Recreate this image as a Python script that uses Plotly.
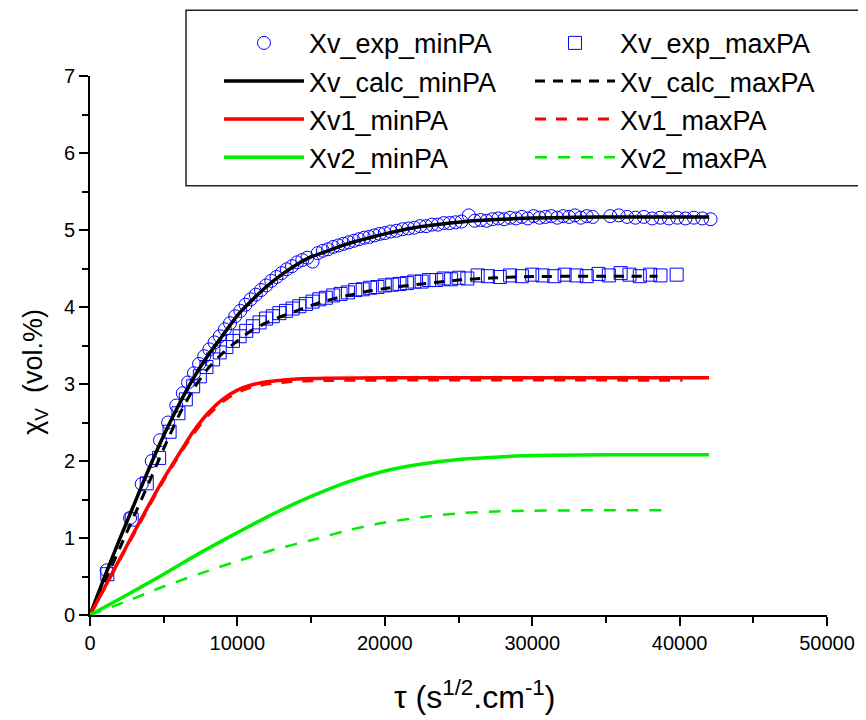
import plotly.graph_objects as go

# ---------------- data ----------------
exp_min_x = [1130, 2720, 3510, 4190, 4750, 5300, 5850, 6300, 6650, 7050, 7400, 7750, 8100, 8450, 8800,
             9150, 9500, 9850, 10200, 10550, 10900, 11250, 11600, 11950, 12300, 12650, 13000, 13350,
             13700, 14050, 14400, 14750, 15100, 15450, 15800, 16150, 16500, 16850, 17200, 17550, 17900,
             18250, 18600, 18950, 19300, 19650, 20000, 20400, 20800, 21200, 21600, 22000, 22400, 22800,
             23200, 23600, 24000, 24400, 24800, 25200, 25700, 26100, 26500, 26900, 27300, 27700, 28100,
             28500, 28900, 29300, 29700, 30100, 30500, 30900, 31300, 31700, 32100, 32500, 32900, 33300,
             33700, 34100, 35300, 35870, 36440, 37000, 37570, 38140, 38700, 39270, 39840, 40400, 40970,
             41540, 42100]
exp_min_y = [0.58, 1.26, 1.70, 2.00, 2.27, 2.50, 2.72, 2.88, 3.02, 3.14, 3.26, 3.36, 3.45, 3.54, 3.62,
             3.71, 3.79, 3.88, 3.95, 4.03, 4.10, 4.16, 4.22, 4.28, 4.34, 4.39, 4.44, 4.49,
             4.53, 4.58, 4.61, 4.64, 4.59, 4.70, 4.73, 4.75, 4.78, 4.80, 4.82, 4.84, 4.86,
             4.88, 4.90, 4.91, 4.93, 4.95, 4.96, 4.98, 4.99, 5.01, 5.02, 5.03, 5.05, 5.05,
             5.07, 5.07, 5.09, 5.09, 5.10, 5.11, 5.19, 5.12, 5.13, 5.12, 5.14, 5.15, 5.14,
             5.16, 5.15, 5.17, 5.15, 5.18, 5.16, 5.17, 5.18, 5.16, 5.18, 5.17, 5.19, 5.16,
             5.18, 5.17, 5.18, 5.19, 5.17, 5.16, 5.17, 5.15, 5.16, 5.15, 5.16, 5.15, 5.16,
             5.15, 5.14]

exp_max_x = [1175, 2830, 3850, 4690, 5400, 6000, 6500, 7000, 7450, 7900, 8350, 8800, 9250, 9700, 10150,
             10600, 11050, 11500, 11950, 12400, 12850, 13300, 13750, 14200, 14650, 15100, 15550, 16000,
             16500, 17000, 17500, 18000, 18500, 19000, 19500, 20000, 20500, 21000, 21500, 22000, 22500,
             23000, 23500, 24000, 24500, 25000, 25600, 26300, 27000, 27800, 28500, 29300, 30000, 30700,
             31500, 32200, 33000, 33700, 34500, 35200, 36000, 36600, 37300, 38000, 38700, 39800]
exp_max_y = [0.53, 1.24, 1.71, 2.04, 2.38, 2.62, 2.80, 2.97, 3.10, 3.22, 3.32, 3.41, 3.48, 3.56, 3.62,
             3.69, 3.75, 3.80, 3.85, 3.88, 3.92, 3.95, 3.98, 4.01, 4.04, 4.07, 4.10, 4.12,
             4.15, 4.17, 4.19, 4.22, 4.23, 4.25, 4.26, 4.28, 4.29, 4.30, 4.31, 4.33, 4.33,
             4.35, 4.35, 4.37, 4.36, 4.38, 4.37, 4.41, 4.40, 4.39, 4.41, 4.40, 4.42, 4.41,
             4.40, 4.42, 4.41, 4.40, 4.43, 4.41, 4.44, 4.42, 4.40, 4.42, 4.41, 4.42]

calc_min_x = [0, 1000, 2000, 3000, 4000, 5000, 6000, 7000, 8000, 9000, 10000, 11000, 12000, 13000, 14000,
              15000, 16000, 17000, 18000, 19000, 20000, 22000, 24000, 26000, 28000, 30000, 33000, 36000, 42000]
calc_min_y = [0, 0.50, 0.98, 1.44, 1.90, 2.33, 2.72, 3.07, 3.37, 3.63, 3.89, 4.09, 4.27, 4.42, 4.55,
              4.65, 4.72, 4.79, 4.85, 4.90, 4.95, 5.03, 5.08, 5.12, 5.14, 5.155, 5.165, 5.17, 5.17]

calc_max_x = [0, 1000, 2000, 3000, 4000, 5000, 6000, 7000, 8000, 9000, 10000, 11000, 12000, 13000, 14000,
              15000, 16000, 17000, 18000, 19000, 20000, 22500, 25000, 27500, 30000, 35000, 38500]
calc_max_y = [0, 0.43, 0.86, 1.29, 1.72, 2.16, 2.58, 2.93, 3.20, 3.40, 3.56, 3.70, 3.80, 3.88, 3.95,
              4.02, 4.08, 4.13, 4.17, 4.21, 4.24, 4.30, 4.35, 4.38, 4.395, 4.40, 4.40]

xv1_min_x = [0, 1000, 2000, 3000, 4000, 5000, 6000, 7000, 8000, 9000, 10000, 11000, 12000, 13000, 14000,
             16000, 20000, 42000]
xv1_min_y = [0, 0.36, 0.72, 1.08, 1.43, 1.77, 2.08, 2.38, 2.62, 2.80, 2.92, 2.99, 3.03, 3.05, 3.065,
             3.075, 3.08, 3.08]

xv1_max_x = [0, 1000, 2000, 3000, 4000, 5000, 6000, 7000, 8000, 9000, 10000, 11000, 12000, 13000, 14000,
             16000, 20000, 40200]
xv1_max_y = [0, 0.355, 0.71, 1.06, 1.41, 1.75, 2.06, 2.35, 2.59, 2.77, 2.89, 2.96, 3.00, 3.02, 3.035,
             3.045, 3.05, 3.05]

xv2_min_x = [0, 2500, 5000, 7500, 10000, 12500, 15000, 17500, 20000, 22500, 25000, 27500, 30000, 35000, 42000]
xv2_min_y = [0, 0.26, 0.53, 0.81, 1.07, 1.32, 1.54, 1.73, 1.87, 1.96, 2.02, 2.05, 2.07, 2.08, 2.08]

xv2_max_x = [0, 2500, 5000, 7500, 10000, 12500, 15000, 17500, 20000, 22500, 25000, 27500, 30000, 35000, 39000]
xv2_max_y = [0, 0.18, 0.37, 0.54, 0.70, 0.85, 0.97, 1.10, 1.20, 1.27, 1.32, 1.345, 1.355, 1.36, 1.36]

x_ticks = [0, 10000, 20000, 30000, 40000, 50000]
y_ticks = [0, 1, 2, 3, 4, 5, 6, 7]

x_title = "τ (s<sup>1/2</sup>.cm<sup>-1</sup>)"
y_title = "χ<sub>V</sub>  (vol.%)"

# ---------------- figure ----------------
FONT = "Liberation Sans, Arial, sans-serif"
BLUE = "#0000ff"
RED = "#ff0000"
GREEN = "#00ee00"

fig = go.Figure()
fig.add_trace(go.Scatter(x=exp_min_x, y=exp_min_y, mode="markers", name="Xv_exp_minPA",
                         marker=dict(symbol="circle-open", size=13, color=BLUE, line=dict(width=1, color=BLUE))))
fig.add_trace(go.Scatter(x=exp_max_x, y=exp_max_y, mode="markers", name="Xv_exp_maxPA",
                         marker=dict(symbol="square-open", size=13, color=BLUE, line=dict(width=1, color=BLUE))))
fig.add_trace(go.Scatter(x=calc_min_x, y=calc_min_y, mode="lines", name="Xv_calc_minPA",
                         line=dict(color="black", width=3.5, shape="spline", smoothing=0.6)))
fig.add_trace(go.Scatter(x=calc_max_x, y=calc_max_y, mode="lines", name="Xv_calc_maxPA",
                         line=dict(color="black", width=3, dash="10px,8px", shape="spline", smoothing=0.6)))
fig.add_trace(go.Scatter(x=xv1_min_x, y=xv1_min_y, mode="lines", name="Xv1_minPA",
                         line=dict(color=RED, width=3.5, shape="spline", smoothing=0.6)))
fig.add_trace(go.Scatter(x=xv1_max_x, y=xv1_max_y, mode="lines", name="Xv1_maxPA",
                         line=dict(color=RED, width=3, dash="11px,10px", shape="spline", smoothing=0.6)))
fig.add_trace(go.Scatter(x=xv2_min_x, y=xv2_min_y, mode="lines", name="Xv2_minPA",
                         line=dict(color=GREEN, width=3.5, shape="spline", smoothing=0.8)))
fig.add_trace(go.Scatter(x=xv2_max_x, y=xv2_max_y, mode="lines", name="Xv2_maxPA",
                         line=dict(color=GREEN, width=2.5, dash="12px,11px", shape="spline", smoothing=0.8)))

axis_common = dict(showline=True, linecolor="black", linewidth=2, ticks="outside", ticklen=9,
                   tickwidth=2, tickcolor="black", showgrid=False, zeroline=False,
                   tickfont=dict(family=FONT, size=20, color="black"))

# page body has an 8px margin: figure is sized so that it fills the 866x720 window exactly
fig.update_layout(
    width=858, height=712,
    margin=dict(l=82, r=39, t=67, b=105),
    paper_bgcolor="white", plot_bgcolor="white",
    font=dict(family=FONT, color="black"),
    showlegend=True,
    legend=dict(orientation="h", x=0.175, xanchor="left", y=1.104, yanchor="top",
                borderwidth=0, bgcolor="rgba(0,0,0,0)",
                font=dict(family=FONT, size=27, color="black"),
                entrywidth=216, entrywidthmode="pixels", itemwidth=80, tracegroupgap=0),
    shapes=[dict(type="rect", xref="paper", yref="paper", x0=0.1303, x1=1.0475, y0=0.7963, y1=1.122,
                 line=dict(color="#222222", width=1.5), fillcolor="rgba(0,0,0,0)", layer="above")],
    annotations=[
        dict(text=x_title, xref="paper", yref="paper", x=0.522, y=-0.148, xanchor="center", yanchor="middle",
             showarrow=False, font=dict(family=FONT, size=32, color="black")),
        dict(text=y_title, xref="paper", yref="paper", x=-0.074, y=0.452, xanchor="center", yanchor="middle",
             textangle=-90, showarrow=False, font=dict(family=FONT, size=27, color="black")),
    ],
    xaxis=dict(range=[0, 50000], tickvals=x_ticks, ticktext=[str(v) for v in x_ticks],
               minor=dict(dtick=5000, ticks="outside", ticklen=6, tickwidth=2, tickcolor="black"),
               **axis_common),
    yaxis=dict(range=[0, 7], tickvals=y_ticks, ticktext=[str(v) for v in y_ticks],
               minor=dict(dtick=0.5, ticks="outside", ticklen=6, tickwidth=2, tickcolor="black"),
               **axis_common),
)

fig.write_html("out.html")
